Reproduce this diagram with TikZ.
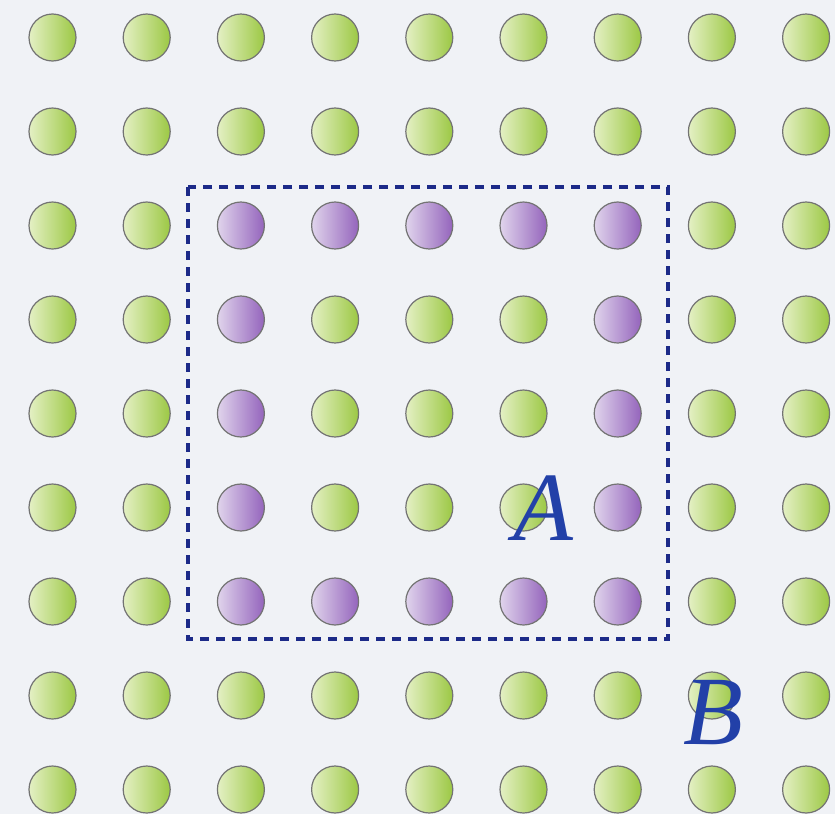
\documentclass[tikz,border=0pt]{standalone}
\usepackage{fontspec}
\setmainfont{Liberation Serif}
\definecolor{gL}{HTML}{E4F0C4}
\definecolor{gR}{HTML}{9CC844}
\definecolor{pL}{HTML}{E0D4EC}
\definecolor{pR}{HTML}{9464BC}
\definecolor{bgc}{HTML}{F0F2F6}
\definecolor{dashc}{HTML}{1C2A88}
\definecolor{txtc}{HTML}{2240A8}
\begin{document}
\begin{tikzpicture}[x=1pt,y=-1pt,
  dot/.style={circle,minimum size=47pt,inner sep=0pt,draw=black!55,line width=1.2pt},
  greendot/.style={dot,left color=gL,right color=gR},
  purpledot/.style={dot,left color=pL,right color=pR},
  lbl/.style={text=txtc,font=\fontsize{98}{98}\selectfont\itshape,inner sep=0pt}]
\fill[bgc] (0,0) rectangle (835,814);
\useasboundingbox (0,0) rectangle (835,814);
\foreach \i in {0,...,8}{
  \foreach \j in {0,...,8}{
    \pgfmathtruncatemacro{\inrow}{(\j>=2)&&(\j<=6)&&(\i>=2)&&(\i<=6)}
    \pgfmathtruncatemacro{\edge}{(\j==2)||(\j==6)||(\i==2)||(\i==6)}
    \ifnum\inrow=1 \ifnum\edge=1
      \node[purpledot] (c\i-\j) at ({52.5+94.2*\i},{37.5+94*\j}) {};
    \else
      \node[greendot] (c\i-\j) at ({52.5+94.2*\i},{37.5+94*\j}) {};
    \fi\else
      \node[greendot] (c\i-\j) at ({52.5+94.2*\i},{37.5+94*\j}) {};
    \fi
  }
}
\draw[dashc,line width=3.5pt,dash pattern=on 9pt off 7pt] (188,187) rectangle (668,639);
\node[lbl] (A) at (543,508) {A};
\node[lbl] (B) at (713,713) {B};
\end{tikzpicture}
\end{document}
